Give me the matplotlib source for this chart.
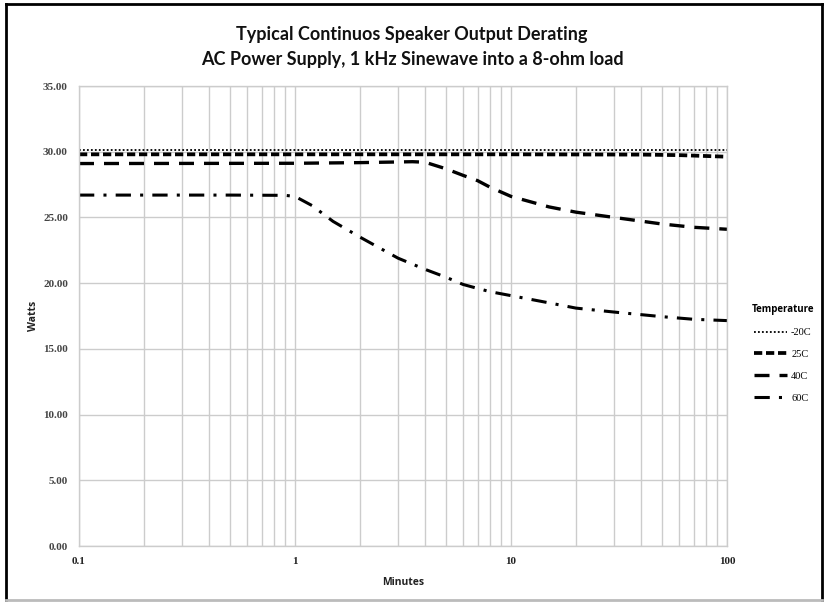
#!/usr/bin/env python3

import matplotlib
matplotlib.use("Agg")
import matplotlib.pyplot as plt
from matplotlib.lines import Line2D
from matplotlib.ticker import FixedLocator, NullFormatter

# values (minutes -> watts)
minutes_m20 = [0.1, 100]
watts_m20 = [30.1, 30.1]

minutes_25 = [0.1, 10, 40, 60, 100]
watts_25 = [29.8, 29.8, 29.78, 29.74, 29.62]

minutes_40 = [0.1, 1, 2, 3, 3.5, 4, 5, 6, 7, 8, 10, 15, 20, 30, 50, 70, 100]
watts_40 = [29.1, 29.12, 29.17, 29.22, 29.24, 29.2, 28.7, 28.2, 27.8, 27.3, 26.6,
            25.8, 25.4, 25.0, 24.5, 24.25, 24.1]

minutes_60 = [0.1, 0.5, 0.9, 1, 1.2, 1.5, 2, 3, 4, 5, 6, 7, 8, 10, 15, 20, 30, 50, 70, 100]
watts_60 = [26.7, 26.7, 26.68, 26.6, 25.9, 24.7, 23.5, 21.9, 21.05, 20.45, 19.9,
            19.6, 19.35, 19.05, 18.5, 18.1, 17.8, 17.45, 17.25, 17.15]

labels = ["-20C", "25C", "40C", "60C"]
y_ticks = [0, 5, 10, 15, 20, 25, 30, 35]
x_ticks = [0.1, 1, 10, 100]

title = "Typical Continuos Speaker Output Derating\nAC Power Supply, 1 kHz Sinewave into a 8-ohm load"

grid_c = "#cccccc"
tick_c = "#444444"

styles = [
    dict(lw=1.3, linestyle=(0, (1, 1.2))),
    dict(lw=2.7, linestyle=(0, (2.2, 1))),
    dict(lw=2.4, linestyle=(0, (4.5, 3))),
    dict(lw=2.2, linestyle=(0, (5, 3, 1, 3))),
]

fig = plt.figure(figsize=(8.25, 6.02), dpi=100)
ax = fig.add_axes([79 / 825, 1 - 546 / 602, 648 / 825, 460 / 602])

series = [(minutes_m20, watts_m20), (minutes_25, watts_25),
          (minutes_40, watts_40), (minutes_60, watts_60)]
for (xs, ys), st in zip(series, styles):
    ax.plot(xs, ys, color="black", **st)

ax.set_xscale("log")
ax.set_xlim(0.1, 100)
ax.set_ylim(0, 35)
ax.set_yticks(y_ticks)
ax.set_yticklabels([f"{v:.2f}" for v in y_ticks])
ax.xaxis.set_major_locator(FixedLocator(x_ticks))
ax.set_xticklabels(["0.1", "1", "10", "100"])
minor = [m * d for d in (0.1, 1, 10) for m in range(2, 10)]
ax.xaxis.set_minor_locator(FixedLocator(minor))
ax.xaxis.set_minor_formatter(NullFormatter())

ax.grid(True, which="both", axis="x", color=grid_c, lw=1)
ax.grid(True, which="major", axis="y", color=grid_c, lw=1)
ax.set_axisbelow(True)
ax.tick_params(which="both", length=0, pad=8)
for lab in ax.get_xticklabels() + ax.get_yticklabels():
    lab.set_fontfamily("Liberation Serif")
    lab.set_fontweight("bold")
    lab.set_fontsize(8)
    lab.set_color(tick_c)
for lab in ax.get_xticklabels():
    lab.set_color("#222222")
for s in ax.spines.values():
    s.set_color(grid_c)
    s.set_linewidth(1)

ax.set_xlabel("Minutes", fontsize=7.5, fontweight="bold", family="Open Sans", labelpad=8, color="#222222")
ax.set_ylabel("Watts", fontsize=7.5, fontweight="bold", family="Open Sans", labelpad=3, color="#222222")

fig.text(412 / 825, 1 - 47 / 602, title, ha="center", va="center", fontsize=13,
         fontweight="bold", family="Lato", linespacing=1.55, color="#111111")

handles = [Line2D([], [], color="black", **st) for st in styles]
leg = fig.legend(handles, labels, title="Temperature", loc="upper left",
                 bbox_to_anchor=(742 / 825, 1 - 295 / 602), frameon=False,
                 prop={"family": "Liberation Serif", "size": 7.5},
                 handlelength=3.2, handletextpad=0.4, labelspacing=1.2)
leg.get_title().set_fontweight("bold")
leg.get_title().set_fontsize(7)
leg.get_title().set_family("Open Sans")

# frame around the whole chart
def px(x, y):
    return x / 825, 1 - y / 602

for (x0, y0), (x1, y1), c in [
    ((6, 4), (6, 600), "black"),
    ((6, 4), (822, 4), "black"),
    ((822, 4), (822, 600), "black"),
    ((6, 600), (822, 600), "#bbbbbb"),
]:
    a, b = px(x0, y0)
    c2, d = px(x1, y1)
    fig.add_artist(Line2D([a, c2], [b, d], color=c, lw=2, transform=fig.transFigure))

fig.savefig("out.png", dpi=100)
